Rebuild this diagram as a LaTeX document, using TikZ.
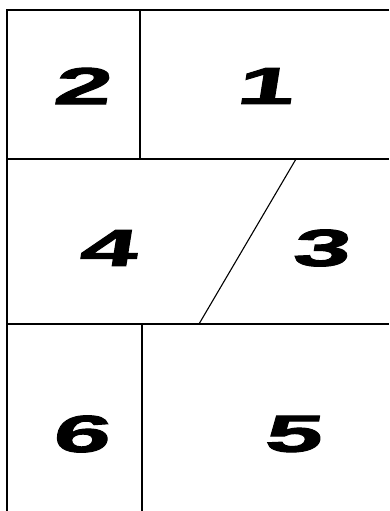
\documentclass[tikz,border=0pt]{standalone}
\usepackage{fontspec}
\newfontfamily\panelfont[FakeSlant=0.16,FakeStretch=2.0,FakeBold=2]{Liberation Sans Bold}
\begin{document}
\begin{tikzpicture}[x=1pt,y=-1pt,line width=1.1pt,
  panel/.style={inner sep=0pt,font=\panelfont\fontsize{52}{52}\selectfont}]
\useasboundingbox (0,0) rectangle (389,511);
% frame and cuts
\draw (389,10) -- (7,10) -- (7,511);
\draw (7,159) -- (389,159);
\draw (7,324) -- (389,324);
\draw (140,10) -- (140,159);
\draw (142,324) -- (142,511);
\draw (296,159) -- (199,324);
% panel numbers
\foreach \name/\x/\y in {2/81/86,1/264/86,4/107/248,3/320/248,6/80/434,5/292/434}
  \node[panel] (p\name) at (\x,\y) {\name};
\end{tikzpicture}
\end{document}
